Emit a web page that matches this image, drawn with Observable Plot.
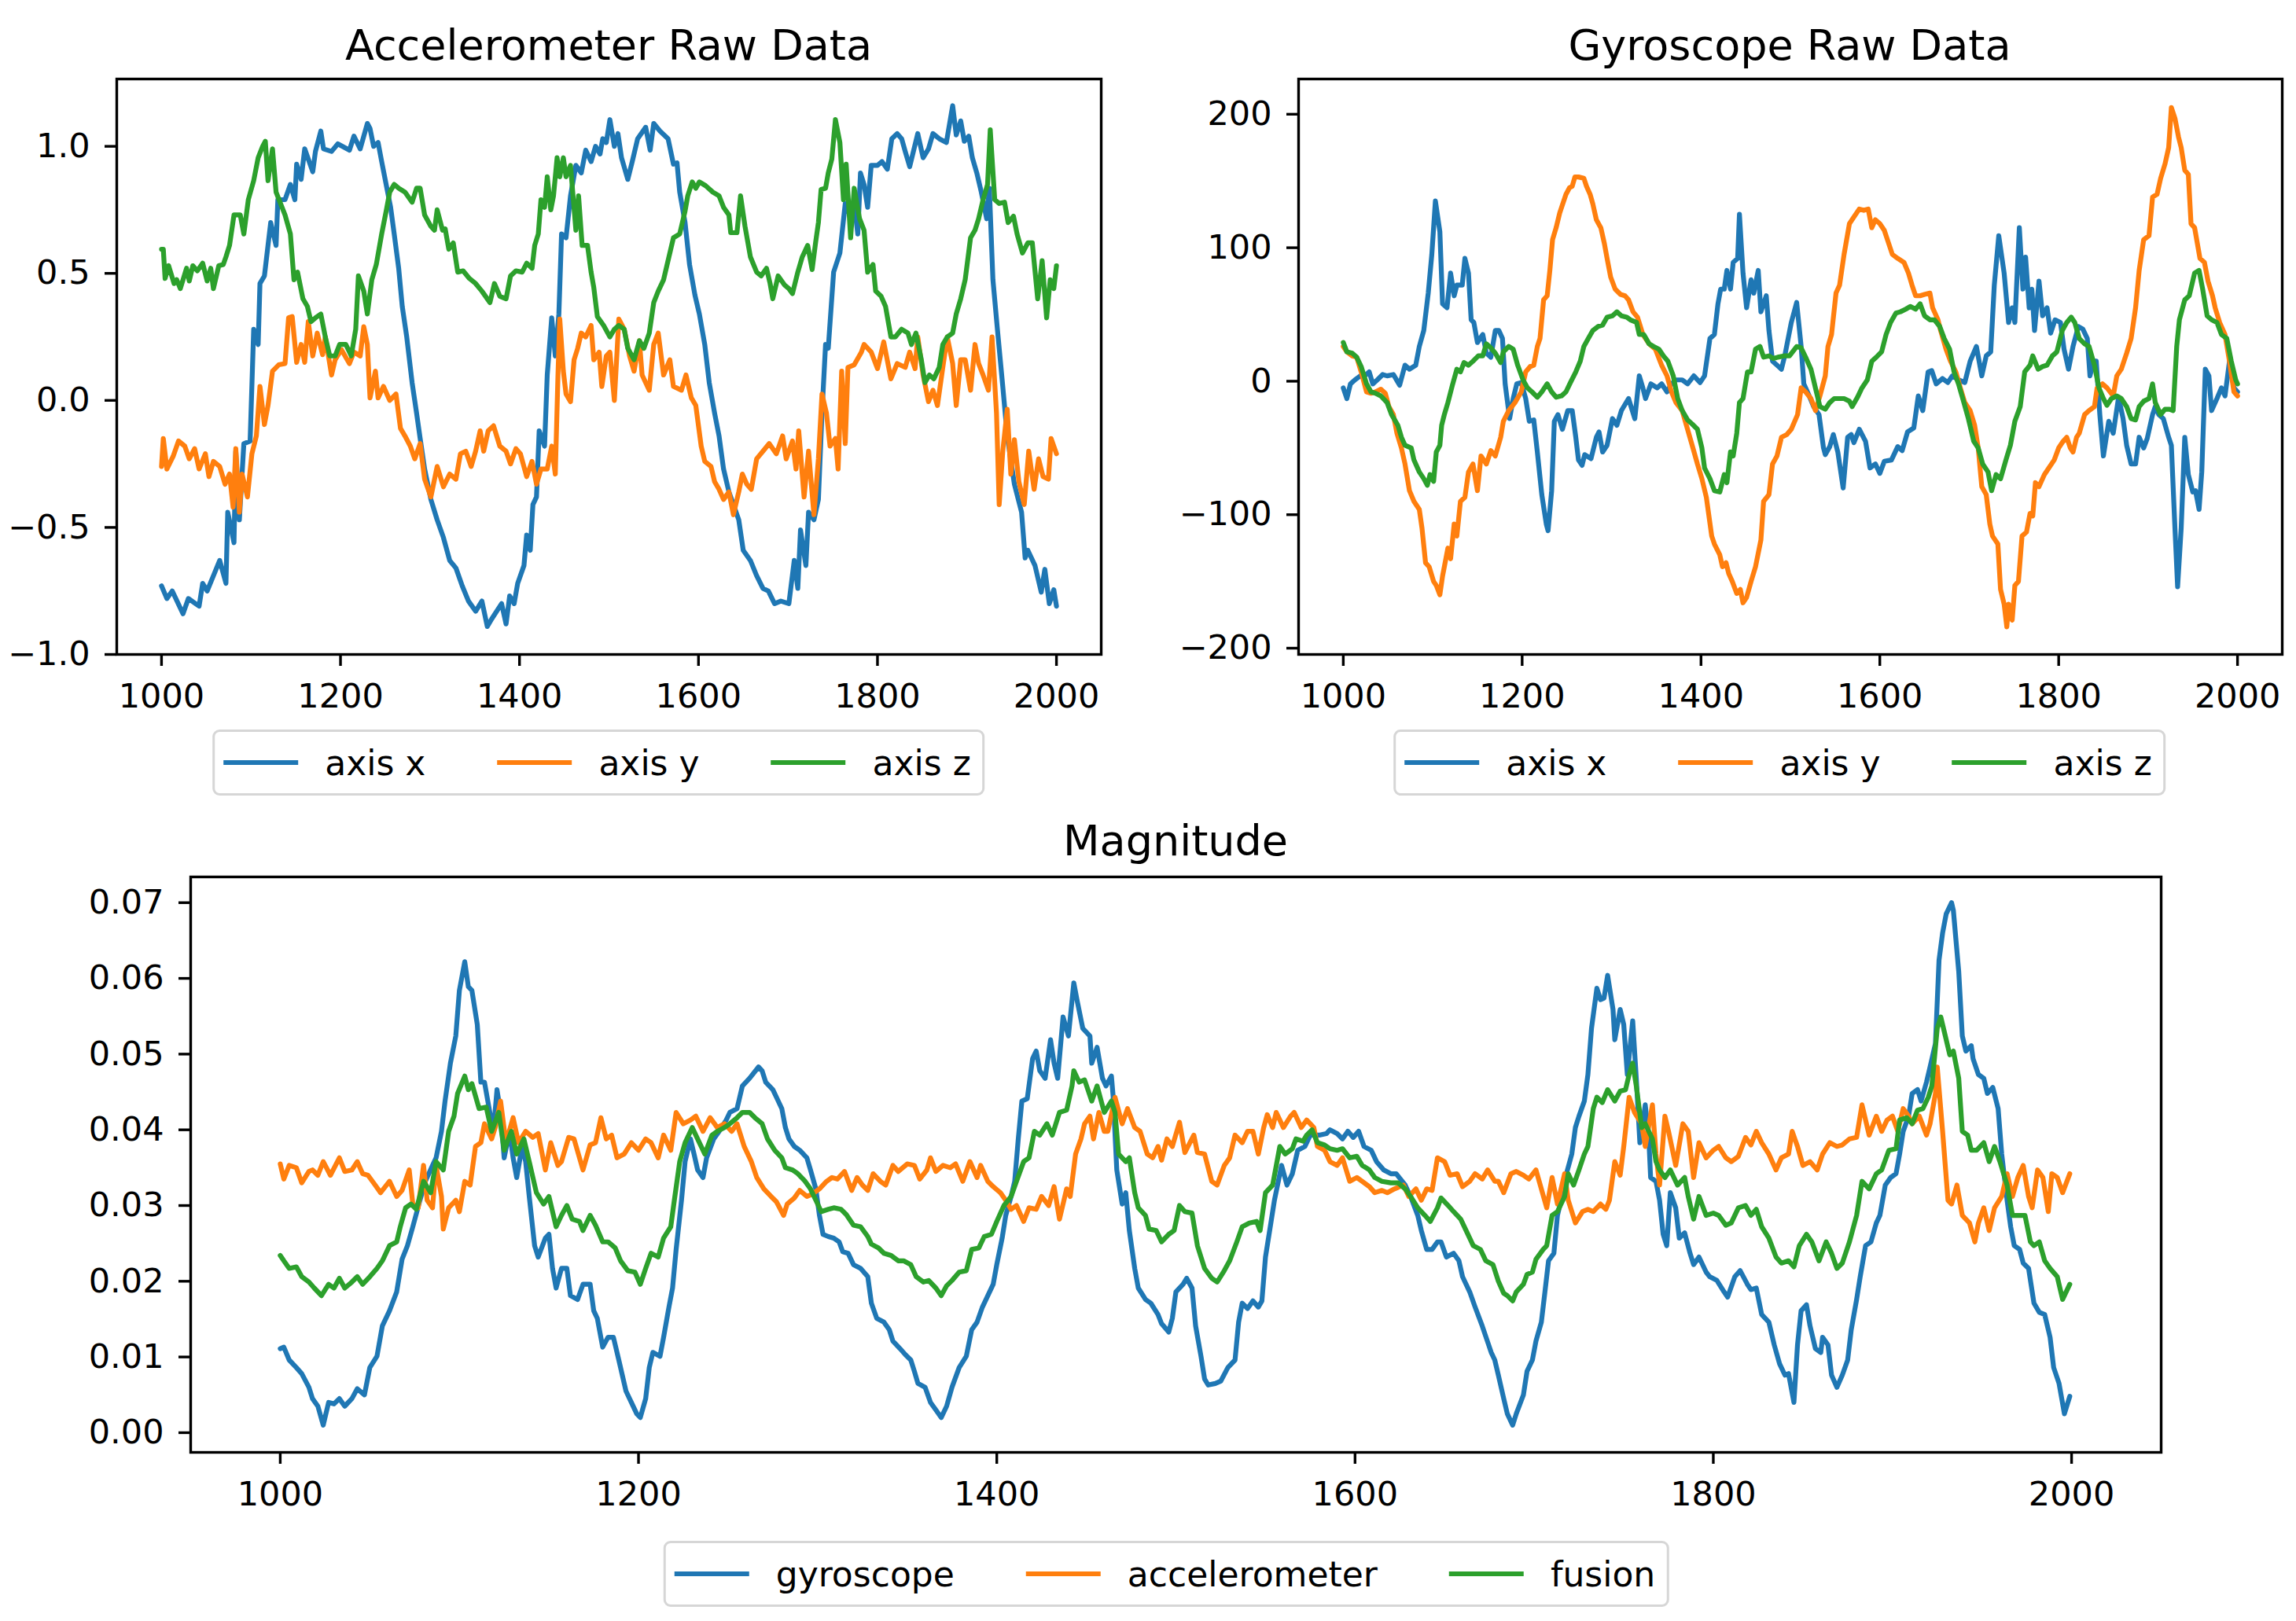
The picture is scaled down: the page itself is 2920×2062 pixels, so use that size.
<!DOCTYPE html>
<html><head><meta charset="utf-8">
<script src="https://cdn.jsdelivr.net/npm/d3@7"></script>
<script src="https://cdn.jsdelivr.net/npm/@observablehq/plot@0.6"></script>
<style>
html,body{margin:0;padding:0;background:#fff;}
#fig{position:relative;width:2920px;height:2062px;background:#fff;font-family:"DejaVu Sans",sans-serif;color:#000;overflow:hidden;}
.panel{position:absolute;}
.panel svg{max-width:none !important;}
.title{position:absolute;font-size:54px;line-height:54px;white-space:nowrap;transform:translateX(-50%);}
.legend{position:absolute;transform:translateX(-50%);height:84px;box-sizing:border-box;border:3.4px solid #d6d6d6;border-radius:9px;background:#fff;display:flex;align-items:center;padding:0 14px 0 11px;font-size:44px;white-space:nowrap;}
.item{display:flex;align-items:center;}
.item+.item{margin-left:91px;}
.handle{width:95px;height:6.4px;margin-right:34px;}
</style></head><body><div id="fig"></div>
<script>
// ---------- data ----------
const xTicks = [1000, 1200, 1400, 1600, 1800, 2000];
const accTicks = [-1, -0.5, 0, 0.5, 1];
const gyroTicks = [-200, -100, 0, 100, 200];
const magTicks = [0, 1, 2, 3, 4, 5, 6, 7].map(v => v / 100);
const colors = ["#1f77b4", "#ff7f0e", "#2ca02c"];
const rawLabels = ["axis x", "axis y", "axis z"];
const magLabels = ["gyroscope", "accelerometer", "fusion"];

const accX = [[1000,-0.73],[1006,-0.78],[1012,-0.75],[1024,-0.84],[1030,-0.78],[1042,-0.81],[1046,-0.72],[1051,-0.75],[1058,-0.69],[1065,-0.63],[1072,-0.72],[1074,-0.44],[1081,-0.56],[1083,-0.2],[1087,-0.47],[1092,-0.17],[1099,-0.16],[1103,0.28],[1108,0.22],[1110,0.46],[1115,0.49],[1119,0.61],[1122,0.70],[1128,0.61],[1130,0.79],[1138,0.79],[1144,0.85],[1149,0.79],[1151,0.93],[1156,0.87],[1160,0.99],[1169,0.90],[1172,0.98],[1178,1.06],[1181,0.99],[1190,0.98],[1197,1.01],[1210,0.985],[1215,1.04],[1222,0.99],[1230,1.09],[1233,1.07],[1237,1.0],[1242,1.015],[1246,0.94],[1251,0.85],[1256,0.76],[1260,0.655],[1265,0.52],[1269,0.37],[1274,0.25],[1280,0.07],[1285,-0.05],[1289,-0.15],[1294,-0.27],[1301,-0.39],[1308,-0.47],[1315,-0.54],[1322,-0.63],[1329,-0.66],[1336,-0.73],[1343,-0.79],[1351,-0.83],[1358,-0.79],[1364,-0.89],[1369,-0.86],[1380,-0.80],[1385,-0.88],[1389,-0.77],[1394,-0.8],[1398,-0.72],[1405,-0.65],[1408,-0.53],[1412,-0.59],[1415,-0.41],[1419,-0.38],[1422,-0.12],[1428,-0.18],[1431,0.10],[1436,0.325],[1440,0.175],[1444,0.34],[1447,0.655],[1452,0.64],[1457,0.805],[1463,0.925],[1469,0.895],[1474,0.985],[1480,0.94],[1485,1.0],[1490,0.97],[1493,1.03],[1497,1.015],[1501,1.105],[1506,1.0],[1510,1.05],[1514,0.955],[1521,0.87],[1526,0.94],[1532,1.03],[1541,1.075],[1546,0.985],[1550,1.09],[1557,1.06],[1566,1.03],[1572,0.93],[1576,0.935],[1579,0.82],[1585,0.70],[1590,0.535],[1596,0.415],[1601,0.34],[1607,0.22],[1612,0.07],[1618,-0.05],[1623,-0.14],[1628,-0.27],[1634,-0.36],[1639,-0.41],[1645,-0.47],[1650,-0.59],[1658,-0.63],[1665,-0.69],[1672,-0.74],[1678,-0.75],[1685,-0.80],[1692,-0.79],[1701,-0.80],[1707,-0.63],[1711,-0.74],[1714,-0.51],[1720,-0.65],[1723,-0.44],[1729,-0.47],[1734,-0.39],[1738,-0.05],[1742,0.22],[1745,0.205],[1751,0.505],[1758,0.58],[1764,0.775],[1769,0.73],[1774,0.775],[1778,0.655],[1781,0.895],[1785,0.85],[1789,0.76],[1793,0.925],[1800,0.925],[1805,0.94],[1811,0.91],[1816,1.03],[1822,1.05],[1827,1.03],[1831,0.98],[1836,0.92],[1845,1.05],[1851,0.955],[1857,0.99],[1862,1.05],[1869,1.03],[1877,1.015],[1884,1.16],[1888,1.045],[1893,1.10],[1897,1.02],[1902,1.04],[1906,0.955],[1911,0.895],[1916,0.82],[1922,0.715],[1925,0.835],[1929,0.475],[1934,0.28],[1940,0.055],[1945,-0.14],[1953,-0.33],[1961,-0.44],[1965,-0.62],[1968,-0.59],[1976,-0.65],[1983,-0.755],[1987,-0.665],[1992,-0.80],[1997,-0.745],[2000,-0.81]];

const accY = [[1000,-0.26],[1002,-0.15],[1006,-0.27],[1013,-0.22],[1019,-0.16],[1026,-0.18],[1031,-0.23],[1037,-0.19],[1042,-0.27],[1049,-0.21],[1053,-0.30],[1058,-0.24],[1065,-0.26],[1071,-0.33],[1076,-0.29],[1080,-0.42],[1083,-0.19],[1087,-0.44],[1090,-0.29],[1096,-0.38],[1101,-0.21],[1106,-0.14],[1110,0.055],[1115,-0.095],[1119,-0.02],[1124,0.115],[1131,0.14],[1138,0.145],[1142,0.325],[1146,0.33],[1151,0.15],[1156,0.22],[1160,0.15],[1164,0.31],[1169,0.175],[1174,0.265],[1180,0.18],[1183,0.25],[1190,0.10],[1194,0.16],[1201,0.20],[1210,0.145],[1215,0.19],[1222,0.175],[1226,0.29],[1230,0.22],[1233,0.01],[1239,0.115],[1242,0.01],[1248,0.055],[1255,0.0],[1262,0.025],[1267,-0.11],[1272,-0.14],[1278,-0.18],[1283,-0.23],[1289,-0.17],[1294,-0.31],[1301,-0.38],[1308,-0.26],[1315,-0.34],[1322,-0.29],[1329,-0.31],[1334,-0.21],[1340,-0.20],[1346,-0.26],[1351,-0.20],[1356,-0.12],[1360,-0.20],[1365,-0.12],[1371,-0.10],[1378,-0.18],[1385,-0.20],[1390,-0.25],[1396,-0.19],[1401,-0.21],[1408,-0.30],[1414,-0.24],[1419,-0.33],[1424,-0.27],[1431,-0.27],[1436,-0.18],[1440,-0.29],[1443,0.10],[1445,0.32],[1449,0.115],[1452,0.025],[1457,-0.005],[1461,0.16],[1465,0.205],[1469,0.265],[1474,0.25],[1480,0.295],[1483,0.16],[1489,0.19],[1492,0.055],[1497,0.175],[1501,0.19],[1506,0.0],[1511,0.32],[1517,0.28],[1523,0.175],[1528,0.115],[1534,0.235],[1537,0.10],[1545,0.04],[1550,0.22],[1555,0.265],[1561,0.10],[1568,0.16],[1572,0.055],[1581,0.04],[1586,0.10],[1592,0.01],[1597,-0.02],[1603,-0.18],[1607,-0.24],[1614,-0.26],[1618,-0.32],[1623,-0.35],[1628,-0.39],[1634,-0.36],[1639,-0.45],[1645,-0.36],[1649,-0.29],[1654,-0.33],[1659,-0.35],[1665,-0.23],[1672,-0.20],[1679,-0.17],[1687,-0.21],[1694,-0.14],[1698,-0.23],[1705,-0.16],[1709,-0.27],[1712,-0.12],[1718,-0.38],[1723,-0.20],[1729,-0.45],[1734,-0.23],[1738,0.025],[1743,-0.05],[1747,-0.18],[1753,-0.15],[1756,-0.27],[1760,0.115],[1764,-0.17],[1767,0.13],[1774,0.14],[1782,0.19],[1785,0.22],[1793,0.19],[1800,0.125],[1807,0.23],[1815,0.085],[1822,0.145],[1831,0.13],[1836,0.19],[1842,0.125],[1845,0.25],[1851,0.10],[1857,-0.005],[1862,0.04],[1867,-0.02],[1873,0.13],[1878,0.25],[1884,0.145],[1888,-0.02],[1893,0.16],[1898,0.16],[1904,0.04],[1909,0.22],[1913,0.145],[1918,0.10],[1924,0.04],[1928,0.25],[1933,-0.05],[1936,-0.41],[1940,-0.20],[1945,-0.035],[1949,-0.29],[1953,-0.155],[1958,-0.32],[1964,-0.41],[1969,-0.20],[1975,-0.35],[1980,-0.23],[1985,-0.30],[1991,-0.31],[1994,-0.15],[2000,-0.21]];

const accZ = [[1000,0.595],[1002,0.595],[1004,0.48],[1008,0.53],[1014,0.46],[1017,0.475],[1021,0.44],[1028,0.52],[1031,0.47],[1035,0.53],[1040,0.51],[1046,0.54],[1051,0.47],[1055,0.52],[1058,0.44],[1064,0.53],[1069,0.535],[1072,0.565],[1076,0.61],[1081,0.73],[1088,0.73],[1092,0.655],[1097,0.79],[1103,0.865],[1108,0.955],[1113,1.0],[1116,1.02],[1119,0.865],[1124,0.99],[1128,0.82],[1133,0.775],[1138,0.73],[1144,0.655],[1148,0.475],[1152,0.505],[1158,0.40],[1163,0.37],[1167,0.31],[1172,0.325],[1178,0.34],[1183,0.25],[1188,0.175],[1194,0.175],[1199,0.22],[1206,0.22],[1212,0.175],[1217,0.28],[1220,0.49],[1226,0.43],[1230,0.34],[1235,0.475],[1240,0.535],[1246,0.655],[1251,0.745],[1255,0.82],[1260,0.85],[1265,0.835],[1272,0.82],[1280,0.78],[1285,0.835],[1289,0.835],[1294,0.73],[1301,0.685],[1305,0.67],[1308,0.75],[1314,0.67],[1317,0.675],[1321,0.595],[1326,0.62],[1331,0.505],[1337,0.51],[1344,0.48],[1351,0.46],[1358,0.43],[1367,0.385],[1372,0.46],[1378,0.41],[1385,0.40],[1390,0.49],[1396,0.51],[1403,0.505],[1408,0.54],[1414,0.52],[1417,0.61],[1421,0.655],[1424,0.79],[1428,0.76],[1431,0.88],[1435,0.75],[1438,0.805],[1442,0.955],[1445,0.88],[1449,0.955],[1452,0.88],[1457,0.925],[1463,0.67],[1466,0.805],[1470,0.61],[1476,0.61],[1480,0.505],[1483,0.445],[1487,0.33],[1494,0.295],[1501,0.25],[1506,0.28],[1511,0.295],[1517,0.28],[1521,0.205],[1528,0.16],[1534,0.235],[1539,0.205],[1545,0.265],[1550,0.385],[1555,0.43],[1561,0.475],[1566,0.55],[1572,0.64],[1579,0.655],[1585,0.745],[1588,0.805],[1593,0.86],[1597,0.835],[1601,0.86],[1608,0.845],[1616,0.82],[1623,0.805],[1628,0.76],[1634,0.73],[1636,0.66],[1643,0.66],[1647,0.805],[1652,0.685],[1658,0.565],[1665,0.505],[1670,0.49],[1676,0.52],[1680,0.46],[1683,0.40],[1689,0.49],[1696,0.455],[1701,0.44],[1705,0.42],[1711,0.505],[1716,0.565],[1722,0.61],[1727,0.515],[1731,0.625],[1734,0.70],[1737,0.83],[1742,0.835],[1745,0.895],[1749,0.95],[1753,1.105],[1758,1.015],[1762,0.79],[1765,0.93],[1770,0.64],[1774,0.835],[1780,0.715],[1785,0.67],[1789,0.505],[1795,0.535],[1798,0.43],[1804,0.41],[1809,0.37],[1815,0.25],[1820,0.25],[1827,0.28],[1834,0.265],[1838,0.22],[1843,0.265],[1849,0.16],[1853,0.07],[1858,0.10],[1863,0.085],[1869,0.13],[1873,0.22],[1878,0.25],[1884,0.265],[1888,0.34],[1893,0.40],[1898,0.475],[1904,0.64],[1909,0.67],[1913,0.715],[1918,0.79],[1923,0.85],[1926,1.065],[1931,0.79],[1936,0.775],[1942,0.78],[1946,0.70],[1952,0.725],[1956,0.655],[1962,0.58],[1968,0.62],[1973,0.62],[1979,0.40],[1984,0.55],[1989,0.325],[1993,0.475],[1997,0.44],[2000,0.53]];

const gyroX = [[1000,-5],[1004,-13],[1008,-2],[1013,1],[1019,4],[1024,4],[1029,7],[1033,-2],[1038,1],[1044,5],[1049,4],[1056,5],[1063,-3],[1069,12],[1074,9],[1081,12],[1085,26],[1090,38],[1095,66],[1099,95],[1103,135],[1108,112],[1111,58],[1116,55],[1120,81],[1124,64],[1127,72],[1133,72],[1136,92],[1140,81],[1143,46],[1146,44],[1150,29],[1156,35],[1160,21],[1165,18],[1170,38],[1174,38],[1178,32],[1181,-2],[1186,-28],[1190,-13],[1194,-2],[1199,-1],[1204,-13],[1208,-30],[1213,-29],[1217,-53],[1222,-85],[1227,-107],[1229,-112],[1233,-82],[1236,-30],[1240,-25],[1245,-36],[1251,-22],[1256,-22],[1260,-42],[1263,-59],[1267,-63],[1270,-55],[1277,-58],[1283,-42],[1286,-38],[1290,-53],[1295,-48],[1301,-28],[1306,-33],[1311,-22],[1319,-13],[1326,-28],[1331,4],[1335,-5],[1338,-13],[1344,-2],[1351,-5],[1356,-2],[1362,-8],[1367,-2],[1372,1],[1379,1],[1385,-2],[1392,4],[1399,-1],[1404,4],[1410,32],[1415,35],[1419,58],[1422,69],[1426,69],[1429,83],[1433,69],[1436,89],[1441,92],[1443,125],[1447,81],[1451,55],[1456,76],[1459,66],[1464,83],[1467,52],[1473,64],[1476,38],[1480,15],[1485,12],[1490,9],[1494,20],[1501,44],[1507,59],[1512,26],[1515,-2],[1521,-11],[1526,-19],[1532,-25],[1537,-50],[1539,-55],[1544,-49],[1548,-40],[1553,-53],[1559,-80],[1564,-42],[1568,-40],[1571,-46],[1577,-36],[1584,-45],[1589,-65],[1595,-62],[1600,-69],[1605,-60],[1613,-59],[1620,-49],[1625,-52],[1631,-38],[1638,-35],[1643,-11],[1648,-22],[1654,7],[1658,8],[1663,-2],[1670,2],[1676,-1],[1681,4],[1688,1],[1695,-1],[1701,15],[1708,26],[1714,4],[1719,19],[1724,22],[1728,72],[1733,109],[1739,81],[1744,44],[1748,55],[1751,44],[1756,115],[1760,69],[1763,93],[1767,55],[1770,69],[1773,38],[1778,75],[1782,49],[1787,55],[1791,36],[1796,46],[1802,44],[1806,24],[1811,9],[1816,26],[1822,41],[1827,39],[1832,32],[1835,4],[1839,15],[1842,15],[1846,-25],[1850,-56],[1856,-30],[1861,-39],[1867,-12],[1872,-28],[1876,-48],[1881,-62],[1886,-62],[1890,-42],[1895,-50],[1899,-43],[1905,-25],[1908,-19],[1912,-25],[1917,-28],[1923,-42],[1926,-48],[1930,-110],[1933,-154],[1937,-110],[1941,-42],[1945,-70],[1950,-83],[1953,-82],[1957,-96],[1960,-68],[1964,9],[1968,4],[1971,-22],[1977,-13],[1982,-5],[1986,-11],[1991,15],[1996,-5],[2000,-8]];

const gyroY = [[1000,26],[1004,22],[1010,19],[1015,18],[1020,7],[1026,-8],[1031,-9],[1036,-8],[1042,-6],[1047,-9],[1051,-19],[1056,-25],[1060,-39],[1065,-50],[1069,-62],[1074,-82],[1079,-90],[1085,-96],[1088,-110],[1092,-136],[1096,-139],[1101,-150],[1104,-153],[1108,-160],[1111,-146],[1117,-125],[1120,-133],[1124,-107],[1127,-116],[1131,-90],[1136,-87],[1140,-68],[1145,-62],[1150,-82],[1154,-56],[1160,-62],[1165,-52],[1170,-56],[1176,-42],[1179,-30],[1185,-22],[1192,-16],[1199,-8],[1204,7],[1209,11],[1213,12],[1217,26],[1220,32],[1224,61],[1228,64],[1231,83],[1234,106],[1238,115],[1242,126],[1245,132],[1249,140],[1253,145],[1256,146],[1259,153],[1263,153],[1269,152],[1272,146],[1276,140],[1279,133],[1283,121],[1288,115],[1292,103],[1295,92],[1299,78],[1304,69],[1310,65],[1315,64],[1319,61],[1324,52],[1329,48],[1335,35],[1342,28],[1349,24],[1356,12],[1362,4],[1367,-8],[1372,-16],[1379,-22],[1385,-36],[1391,-50],[1396,-62],[1401,-73],[1406,-87],[1412,-116],[1415,-122],[1421,-130],[1424,-139],[1428,-136],[1431,-144],[1435,-150],[1440,-159],[1444,-156],[1447,-166],[1451,-162],[1456,-150],[1461,-139],[1467,-119],[1470,-90],[1476,-85],[1480,-62],[1485,-56],[1490,-42],[1496,-40],[1501,-36],[1508,-25],[1512,-5],[1517,-8],[1523,-13],[1528,-22],[1533,-11],[1539,4],[1542,26],[1546,35],[1551,66],[1555,72],[1560,95],[1566,118],[1571,123],[1577,129],[1582,128],[1587,129],[1591,115],[1595,121],[1600,118],[1605,113],[1609,105],[1614,95],[1620,92],[1627,89],[1632,81],[1636,72],[1640,64],[1645,64],[1650,65],[1656,66],[1659,55],[1665,46],[1668,38],[1674,24],[1679,15],[1685,7],[1690,-5],[1695,-16],[1701,-22],[1706,-33],[1710,-50],[1714,-79],[1719,-85],[1723,-107],[1726,-116],[1732,-122],[1735,-156],[1739,-167],[1742,-184],[1744,-167],[1748,-179],[1751,-153],[1755,-150],[1759,-116],[1764,-113],[1768,-99],[1771,-101],[1774,-76],[1778,-79],[1784,-70],[1789,-65],[1795,-59],[1800,-50],[1805,-45],[1809,-42],[1813,-50],[1816,-53],[1820,-42],[1823,-39],[1829,-25],[1834,-22],[1840,-19],[1843,-5],[1849,-2],[1854,-5],[1861,-11],[1865,4],[1870,9],[1876,21],[1881,32],[1886,55],[1890,83],[1895,106],[1901,109],[1905,138],[1910,140],[1914,152],[1919,163],[1923,175],[1926,205],[1930,197],[1934,183],[1937,175],[1941,158],[1945,155],[1948,118],[1952,115],[1958,92],[1963,89],[1967,75],[1972,64],[1975,55],[1980,44],[1986,35],[1991,15],[1996,-8],[2000,-11]];

const gyroZ = [[1000,29],[1004,22],[1010,21],[1015,18],[1020,11],[1026,-2],[1031,-8],[1036,-9],[1042,-11],[1049,-16],[1054,-25],[1061,-33],[1065,-42],[1069,-48],[1076,-50],[1079,-59],[1085,-68],[1090,-73],[1094,-78],[1097,-70],[1101,-75],[1104,-53],[1108,-48],[1110,-33],[1113,-25],[1117,-16],[1122,-3],[1127,9],[1131,7],[1135,14],[1140,12],[1145,15],[1151,19],[1156,19],[1160,28],[1165,25],[1170,21],[1176,14],[1179,22],[1185,26],[1190,24],[1195,12],[1201,1],[1206,-5],[1211,-8],[1217,-12],[1222,-8],[1228,-2],[1233,-8],[1238,-12],[1244,-11],[1249,-8],[1254,-1],[1260,7],[1265,15],[1269,26],[1274,32],[1279,38],[1285,41],[1290,42],[1295,48],[1301,49],[1306,52],[1311,49],[1317,48],[1321,46],[1328,44],[1331,35],[1336,35],[1342,28],[1347,26],[1353,24],[1358,19],[1363,15],[1369,4],[1374,-13],[1379,-22],[1385,-29],[1390,-32],[1396,-36],[1401,-50],[1404,-65],[1410,-73],[1415,-82],[1421,-83],[1426,-70],[1429,-76],[1433,-53],[1436,-56],[1440,-39],[1443,-16],[1447,-13],[1452,7],[1456,7],[1461,24],[1466,26],[1470,18],[1476,19],[1481,17],[1486,18],[1493,19],[1499,19],[1507,26],[1512,25],[1517,18],[1523,9],[1528,-5],[1533,-19],[1539,-21],[1544,-16],[1549,-13],[1555,-13],[1560,-13],[1566,-15],[1569,-19],[1575,-12],[1580,-5],[1586,1],[1591,15],[1596,18],[1602,22],[1607,35],[1612,44],[1618,51],[1623,52],[1629,54],[1634,56],[1640,54],[1645,58],[1650,49],[1656,46],[1661,46],[1667,41],[1672,32],[1678,24],[1683,7],[1688,-2],[1694,-16],[1699,-28],[1705,-45],[1710,-50],[1715,-62],[1721,-68],[1725,-82],[1730,-70],[1735,-73],[1741,-59],[1746,-48],[1751,-30],[1757,-19],[1762,7],[1768,12],[1771,19],[1777,9],[1782,11],[1787,12],[1793,19],[1798,22],[1804,38],[1809,44],[1814,48],[1818,44],[1823,32],[1829,28],[1834,26],[1840,12],[1845,-5],[1850,-13],[1854,-18],[1859,-13],[1865,-11],[1870,-13],[1876,-19],[1881,-28],[1886,-29],[1890,-19],[1895,-15],[1901,-13],[1905,-2],[1908,-16],[1914,-25],[1919,-21],[1924,-21],[1928,-22],[1932,26],[1935,46],[1941,61],[1946,64],[1952,81],[1957,83],[1961,69],[1966,49],[1971,46],[1977,44],[1982,35],[1988,32],[1993,15],[1998,1],[2000,-2]];

const magGyro = [[1000,0.0111],[1002,0.0113],[1005,0.0096],[1009,0.0086],[1012,0.0078],[1016,0.0060],[1018,0.0045],[1021,0.0035],[1024,0.0010],[1027,0.0040],[1030,0.0038],[1033,0.0045],[1036,0.0035],[1040,0.0045],[1043,0.0058],[1047,0.0050],[1050,0.0086],[1054,0.0101],[1057,0.0141],[1061,0.0161],[1065,0.0186],[1068,0.0229],[1071,0.0247],[1074,0.0272],[1078,0.0307],[1081,0.0332],[1085,0.0353],[1087,0.0363],[1090,0.0398],[1092,0.0438],[1095,0.0488],[1098,0.0524],[1100,0.0584],[1103,0.0622],[1105,0.0589],[1107,0.0584],[1110,0.0539],[1112,0.0463],[1114,0.0463],[1117,0.0423],[1119,0.0398],[1121,0.0453],[1123,0.0423],[1125,0.0363],[1128,0.0398],[1130,0.0363],[1132,0.0337],[1135,0.0378],[1137,0.0358],[1139,0.0312],[1142,0.0247],[1144,0.0232],[1148,0.0257],[1150,0.0262],[1152,0.0217],[1154,0.0191],[1157,0.0217],[1160,0.0217],[1162,0.0181],[1166,0.0176],[1169,0.0196],[1173,0.0196],[1175,0.0161],[1177,0.0151],[1180,0.0113],[1183,0.0126],[1186,0.0126],[1189,0.0096],[1193,0.0055],[1196,0.0040],[1199,0.0025],[1201,0.0020],[1204,0.0045],[1206,0.0086],[1208,0.0106],[1212,0.0101],[1214,0.0126],[1217,0.0166],[1219,0.0191],[1221,0.0242],[1224,0.0307],[1226,0.0358],[1229,0.0388],[1231,0.0368],[1233,0.0347],[1236,0.0337],[1238,0.0363],[1242,0.0388],[1245,0.0398],[1249,0.0413],[1251,0.0423],[1255,0.0428],[1258,0.0458],[1262,0.0468],[1267,0.0483],[1269,0.0478],[1271,0.0463],[1275,0.0453],[1277,0.0443],[1280,0.0428],[1282,0.0403],[1284,0.0388],[1287,0.0378],[1290,0.0373],[1294,0.0363],[1296,0.0347],[1299,0.0322],[1301,0.0287],[1303,0.0262],[1306,0.0259],[1309,0.0257],[1312,0.0252],[1314,0.0239],[1317,0.0237],[1320,0.0222],[1324,0.0217],[1328,0.0206],[1330,0.0171],[1333,0.0151],[1337,0.0146],[1340,0.0136],[1342,0.0121],[1346,0.0111],[1349,0.0103],[1352,0.0096],[1354,0.0081],[1356,0.0065],[1360,0.0060],[1363,0.0040],[1366,0.0030],[1369,0.0020],[1372,0.0035],[1375,0.0060],[1379,0.0086],[1383,0.0101],[1386,0.0136],[1389,0.0146],[1392,0.0166],[1395,0.0181],[1398,0.0196],[1400,0.0222],[1403,0.0257],[1405,0.0287],[1408,0.0312],[1410,0.0332],[1412,0.0388],[1414,0.0438],[1417,0.0441],[1420,0.0494],[1422,0.0504],[1424,0.0478],[1427,0.0468],[1430,0.0519],[1432,0.0488],[1434,0.0468],[1437,0.0549],[1440,0.0524],[1443,0.0594],[1445,0.0569],[1448,0.0534],[1452,0.0524],[1453,0.0488],[1456,0.0509],[1459,0.0468],[1461,0.0458],[1464,0.0471],[1465,0.0443],[1467,0.0347],[1470,0.0302],[1472,0.0317],[1474,0.0267],[1477,0.0217],[1479,0.0191],[1483,0.0176],[1486,0.0171],[1490,0.0156],[1492,0.0144],[1496,0.0133],[1498,0.0151],[1500,0.0186],[1504,0.0196],[1506,0.0204],[1509,0.0191],[1511,0.0141],[1514,0.0101],[1516,0.0071],[1518,0.0063],[1522,0.0065],[1525,0.0068],[1529,0.0086],[1533,0.0096],[1535,0.0146],[1537,0.0171],[1540,0.0164],[1543,0.0174],[1546,0.0166],[1548,0.0174],[1550,0.0232],[1553,0.0277],[1555,0.0307],[1559,0.0353],[1562,0.0327],[1565,0.0342],[1568,0.0373],[1572,0.0378],[1575,0.0393],[1580,0.0393],[1584,0.0395],[1586,0.0400],[1590,0.0395],[1593,0.0388],[1596,0.0398],[1599,0.0390],[1602,0.0398],[1605,0.0378],[1609,0.0373],[1612,0.0358],[1616,0.0347],[1620,0.0342],[1623,0.0342],[1628,0.0327],[1631,0.0312],[1635,0.0287],[1637,0.0267],[1640,0.0242],[1643,0.0242],[1646,0.0252],[1648,0.0252],[1651,0.0232],[1655,0.0237],[1658,0.0227],[1660,0.0206],[1664,0.0186],[1667,0.0166],[1671,0.0141],[1674,0.0120],[1676,0.0106],[1678,0.0096],[1680,0.0076],[1683,0.0045],[1685,0.0025],[1688,0.0010],[1690,0.0025],[1694,0.0050],[1696,0.0081],[1699,0.0096],[1701,0.0121],[1704,0.0146],[1706,0.0186],[1708,0.0227],[1711,0.0237],[1713,0.0287],[1716,0.0317],[1718,0.0342],[1721,0.0368],[1723,0.0403],[1725,0.0418],[1728,0.0438],[1730,0.0473],[1732,0.0534],[1735,0.0587],[1737,0.0572],[1739,0.0574],[1741,0.0604],[1744,0.0559],[1745,0.0519],[1748,0.0559],[1750,0.0539],[1752,0.0473],[1755,0.0544],[1757,0.0468],[1759,0.0383],[1762,0.0433],[1764,0.0388],[1765,0.0337],[1768,0.0332],[1770,0.0307],[1772,0.0262],[1774,0.0247],[1776,0.0317],[1779,0.0297],[1781,0.0257],[1784,0.0264],[1787,0.0237],[1789,0.0222],[1792,0.0232],[1796,0.0212],[1798,0.0206],[1802,0.0201],[1806,0.0186],[1808,0.0179],[1812,0.0206],[1815,0.0214],[1819,0.0196],[1821,0.0189],[1824,0.0191],[1827,0.0156],[1831,0.0146],[1834,0.0116],[1837,0.0091],[1840,0.0076],[1842,0.0078],[1845,0.0040],[1847,0.0116],[1849,0.0161],[1852,0.0169],[1854,0.0141],[1857,0.0111],[1860,0.0106],[1861,0.0126],[1864,0.0116],[1866,0.0076],[1869,0.0060],[1872,0.0076],[1875,0.0096],[1877,0.0136],[1880,0.0176],[1882,0.0206],[1885,0.0247],[1888,0.0252],[1891,0.0277],[1893,0.0287],[1896,0.0327],[1899,0.0337],[1902,0.0342],[1904,0.0368],[1906,0.0398],[1909,0.0418],[1911,0.0448],[1914,0.0453],[1916,0.0438],[1919,0.0463],[1921,0.0483],[1924,0.0514],[1926,0.0624],[1928,0.0660],[1930,0.0685],[1933,0.0700],[1934,0.0690],[1937,0.0609],[1939,0.0524],[1941,0.0504],[1944,0.0511],[1945,0.0494],[1948,0.0473],[1951,0.0468],[1953,0.0448],[1956,0.0456],[1959,0.0428],[1961,0.0368],[1964,0.0307],[1966,0.0272],[1968,0.0247],[1971,0.0242],[1973,0.0224],[1976,0.0217],[1979,0.0171],[1982,0.0159],[1985,0.0156],[1988,0.0126],[1990,0.0086],[1993,0.0065],[1996,0.0025],[1999,0.0048]];

const magAcc = [[1000,0.0355],[1002,0.0335],[1005,0.0353],[1009,0.0350],[1012,0.0330],[1016,0.0345],[1018,0.0347],[1021,0.0340],[1024,0.0358],[1028,0.0340],[1033,0.0363],[1036,0.0345],[1040,0.0347],[1043,0.0358],[1046,0.0342],[1049,0.0340],[1053,0.0327],[1056,0.0317],[1061,0.0332],[1065,0.0312],[1068,0.0320],[1072,0.0347],[1074,0.0302],[1077,0.0297],[1080,0.0353],[1082,0.0307],[1085,0.0297],[1087,0.0353],[1090,0.0312],[1091,0.0269],[1094,0.0297],[1098,0.0307],[1100,0.0292],[1103,0.0332],[1106,0.0327],[1109,0.0378],[1112,0.0383],[1114,0.0408],[1118,0.0388],[1120,0.0403],[1123,0.0438],[1126,0.0383],[1130,0.0416],[1133,0.0383],[1137,0.0398],[1141,0.0390],[1144,0.0395],[1148,0.0347],[1151,0.0383],[1155,0.0353],[1157,0.0358],[1161,0.0390],[1164,0.0388],[1169,0.0347],[1173,0.0380],[1176,0.0383],[1179,0.0416],[1182,0.0388],[1185,0.0393],[1188,0.0363],[1192,0.0368],[1196,0.0383],[1200,0.0373],[1204,0.0388],[1207,0.0383],[1211,0.0363],[1214,0.0393],[1218,0.0373],[1221,0.0423],[1225,0.0408],[1229,0.0413],[1232,0.0418],[1236,0.0398],[1240,0.0416],[1244,0.0403],[1248,0.0408],[1252,0.0398],[1255,0.0408],[1259,0.0378],[1263,0.0358],[1266,0.0337],[1270,0.0322],[1274,0.0312],[1277,0.0305],[1281,0.0287],[1283,0.0302],[1287,0.0310],[1290,0.0320],[1294,0.0312],[1297,0.0315],[1301,0.0322],[1305,0.0332],[1308,0.0337],[1311,0.0335],[1315,0.0345],[1319,0.0320],[1322,0.0337],[1325,0.0327],[1328,0.0320],[1331,0.0342],[1335,0.0332],[1338,0.0327],[1342,0.0353],[1345,0.0345],[1350,0.0355],[1354,0.0353],[1357,0.0335],[1361,0.0347],[1363,0.0363],[1366,0.0345],[1370,0.0353],[1374,0.0350],[1377,0.0355],[1381,0.0332],[1385,0.0358],[1389,0.0337],[1391,0.0353],[1395,0.0332],[1398,0.0325],[1402,0.0317],[1405,0.0307],[1408,0.0295],[1411,0.0300],[1415,0.0279],[1418,0.0297],[1422,0.0295],[1425,0.0312],[1429,0.0300],[1432,0.0325],[1435,0.0282],[1439,0.0322],[1441,0.0312],[1444,0.0368],[1447,0.0388],[1449,0.0408],[1452,0.0418],[1454,0.0388],[1457,0.0423],[1460,0.0398],[1462,0.0398],[1466,0.0443],[1470,0.0408],[1473,0.0428],[1477,0.0403],[1480,0.0398],[1484,0.0368],[1487,0.0363],[1490,0.0378],[1492,0.0360],[1495,0.0388],[1498,0.0378],[1502,0.0410],[1505,0.0370],[1510,0.0393],[1512,0.0370],[1516,0.0368],[1520,0.0332],[1523,0.0327],[1527,0.0353],[1530,0.0363],[1533,0.0393],[1537,0.0383],[1540,0.0398],[1543,0.0398],[1546,0.0368],[1549,0.0403],[1551,0.0420],[1554,0.0403],[1556,0.0423],[1560,0.0403],[1564,0.0418],[1566,0.0423],[1570,0.0403],[1573,0.0413],[1577,0.0403],[1579,0.0378],[1583,0.0373],[1586,0.0358],[1590,0.0353],[1593,0.0363],[1597,0.0332],[1601,0.0337],[1604,0.0332],[1608,0.0325],[1611,0.0317],[1615,0.0320],[1618,0.0317],[1622,0.0322],[1627,0.0327],[1630,0.0312],[1634,0.0322],[1637,0.0307],[1640,0.0322],[1643,0.0320],[1646,0.0363],[1650,0.0358],[1653,0.0340],[1657,0.0342],[1660,0.0325],[1664,0.0332],[1667,0.0342],[1671,0.0335],[1674,0.0347],[1678,0.0332],[1680,0.0332],[1683,0.0317],[1687,0.0342],[1690,0.0345],[1694,0.0340],[1697,0.0335],[1701,0.0347],[1704,0.0322],[1707,0.0297],[1710,0.0337],[1713,0.0302],[1717,0.0342],[1719,0.0307],[1723,0.0277],[1727,0.0292],[1730,0.0295],[1733,0.0292],[1737,0.0302],[1740,0.0295],[1742,0.0307],[1745,0.0358],[1748,0.0340],[1750,0.0378],[1753,0.0443],[1756,0.0423],[1760,0.0408],[1762,0.0378],[1766,0.0433],[1768,0.0368],[1770,0.0327],[1773,0.0418],[1775,0.0398],[1779,0.0353],[1783,0.0408],[1786,0.0398],[1789,0.0337],[1792,0.0383],[1796,0.0363],[1800,0.0373],[1803,0.0378],[1807,0.0363],[1810,0.0358],[1814,0.0365],[1818,0.0390],[1821,0.0380],[1824,0.0398],[1827,0.0383],[1831,0.0368],[1835,0.0347],[1838,0.0363],[1842,0.0368],[1844,0.0398],[1847,0.0378],[1850,0.0353],[1854,0.0358],[1858,0.0347],[1861,0.0368],[1865,0.0383],[1869,0.0378],[1872,0.0380],[1876,0.0388],[1880,0.0390],[1883,0.0433],[1887,0.0393],[1891,0.0418],[1894,0.0398],[1897,0.0413],[1900,0.0418],[1903,0.0398],[1906,0.0428],[1909,0.0418],[1911,0.0408],[1915,0.0418],[1919,0.0393],[1921,0.0408],[1924,0.0448],[1925,0.0483],[1928,0.0398],[1931,0.0307],[1933,0.0302],[1936,0.0327],[1939,0.0287],[1943,0.0277],[1946,0.0252],[1948,0.0277],[1951,0.0297],[1954,0.0267],[1957,0.0297],[1961,0.0312],[1964,0.0342],[1967,0.0312],[1970,0.0337],[1973,0.0353],[1976,0.0312],[1978,0.0297],[1981,0.0347],[1984,0.0337],[1987,0.0292],[1989,0.0342],[1992,0.0337],[1995,0.0317],[1999,0.0342]];

const magFusion = [[1000,0.0234],[1002,0.0227],[1005,0.0217],[1009,0.0219],[1012,0.0206],[1016,0.0199],[1019,0.0191],[1023,0.0181],[1027,0.0196],[1030,0.0191],[1033,0.0204],[1036,0.0191],[1040,0.0199],[1043,0.0206],[1046,0.0196],[1050,0.0206],[1054,0.0217],[1057,0.0227],[1061,0.0247],[1065,0.0252],[1067,0.0272],[1070,0.0297],[1073,0.0302],[1076,0.0295],[1080,0.0332],[1084,0.0317],[1087,0.0358],[1091,0.0347],[1094,0.0398],[1097,0.0418],[1099,0.0448],[1103,0.0471],[1105,0.0453],[1107,0.0461],[1111,0.0428],[1115,0.0430],[1118,0.0398],[1122,0.0423],[1125,0.0373],[1129,0.0398],[1132,0.0368],[1136,0.0388],[1139,0.0358],[1143,0.0317],[1147,0.0302],[1150,0.0312],[1154,0.0272],[1157,0.0287],[1160,0.0300],[1163,0.0282],[1167,0.0279],[1169,0.0267],[1173,0.0287],[1176,0.0274],[1180,0.0252],[1183,0.0252],[1187,0.0244],[1190,0.0227],[1194,0.0214],[1198,0.0212],[1201,0.0196],[1204,0.0217],[1207,0.0237],[1211,0.0232],[1214,0.0257],[1218,0.0272],[1220,0.0307],[1223,0.0358],[1226,0.0383],[1230,0.0403],[1234,0.0383],[1237,0.0368],[1241,0.0393],[1244,0.0398],[1248,0.0403],[1251,0.0408],[1255,0.0416],[1258,0.0423],[1262,0.0423],[1265,0.0416],[1269,0.0408],[1272,0.0388],[1276,0.0373],[1280,0.0363],[1282,0.0350],[1286,0.0347],[1289,0.0342],[1293,0.0332],[1296,0.0322],[1299,0.0307],[1302,0.0292],[1306,0.0295],[1309,0.0297],[1313,0.0295],[1316,0.0288],[1320,0.0274],[1324,0.0272],[1328,0.0259],[1330,0.0249],[1334,0.0244],[1337,0.0237],[1341,0.0234],[1345,0.0227],[1348,0.0227],[1352,0.0222],[1355,0.0206],[1359,0.0199],[1362,0.0201],[1366,0.0191],[1369,0.0181],[1372,0.0194],[1375,0.0201],[1379,0.0212],[1383,0.0214],[1386,0.0242],[1390,0.0244],[1393,0.0259],[1397,0.0262],[1400,0.0279],[1404,0.0300],[1408,0.0312],[1411,0.0332],[1415,0.0358],[1418,0.0363],[1421,0.0398],[1424,0.0393],[1428,0.0408],[1431,0.0393],[1435,0.0423],[1439,0.0426],[1442,0.0458],[1443,0.0478],[1446,0.0463],[1449,0.0466],[1453,0.0438],[1456,0.0458],[1460,0.0423],[1464,0.0438],[1466,0.0423],[1468,0.0368],[1472,0.0358],[1474,0.0363],[1477,0.0317],[1479,0.0297],[1483,0.0287],[1485,0.0269],[1489,0.0267],[1492,0.0252],[1496,0.0262],[1499,0.0267],[1502,0.0300],[1505,0.0292],[1509,0.0290],[1512,0.0247],[1516,0.0217],[1520,0.0204],[1523,0.0199],[1527,0.0214],[1530,0.0227],[1534,0.0252],[1537,0.0272],[1541,0.0277],[1545,0.0279],[1547,0.0267],[1550,0.0317],[1554,0.0327],[1558,0.0378],[1561,0.0368],[1565,0.0375],[1567,0.0388],[1571,0.0385],[1573,0.0393],[1576,0.0400],[1579,0.0383],[1583,0.0380],[1586,0.0375],[1590,0.0373],[1593,0.0375],[1597,0.0363],[1601,0.0365],[1604,0.0353],[1608,0.0347],[1611,0.0337],[1615,0.0332],[1620,0.0330],[1624,0.0330],[1628,0.0322],[1631,0.0312],[1635,0.0297],[1639,0.0287],[1642,0.0279],[1646,0.0297],[1648,0.0310],[1652,0.0300],[1655,0.0292],[1659,0.0282],[1663,0.0262],[1666,0.0247],[1670,0.0242],[1673,0.0227],[1677,0.0222],[1680,0.0200],[1683,0.0184],[1685,0.0181],[1688,0.0174],[1690,0.0186],[1694,0.0196],[1696,0.0209],[1699,0.0212],[1701,0.0229],[1705,0.0242],[1707,0.0247],[1710,0.0287],[1713,0.0292],[1717,0.0312],[1719,0.0342],[1722,0.0327],[1725,0.0347],[1728,0.0368],[1730,0.0378],[1733,0.0428],[1735,0.0443],[1738,0.0436],[1741,0.0453],[1745,0.0438],[1748,0.0451],[1751,0.0453],[1753,0.0473],[1755,0.0488],[1757,0.0458],[1760,0.0403],[1762,0.0408],[1766,0.0388],[1768,0.0358],[1770,0.0347],[1773,0.0337],[1776,0.0347],[1780,0.0327],[1784,0.0337],[1786,0.0312],[1789,0.0282],[1792,0.0312],[1796,0.0287],[1800,0.0290],[1803,0.0287],[1807,0.0274],[1810,0.0277],[1814,0.0297],[1818,0.0300],[1821,0.0287],[1824,0.0295],[1827,0.0272],[1831,0.0257],[1835,0.0232],[1838,0.0224],[1842,0.0227],[1845,0.0219],[1848,0.0247],[1852,0.0262],[1855,0.0252],[1859,0.0227],[1863,0.0252],[1866,0.0237],[1869,0.0217],[1872,0.0224],[1876,0.0252],[1880,0.0287],[1883,0.0332],[1887,0.0322],[1891,0.0342],[1894,0.0347],[1898,0.0373],[1902,0.0375],[1904,0.0413],[1908,0.0416],[1911,0.0408],[1914,0.0426],[1917,0.0428],[1920,0.0443],[1922,0.0458],[1925,0.0534],[1927,0.0549],[1930,0.0519],[1932,0.0499],[1934,0.0504],[1937,0.0468],[1939,0.0398],[1942,0.0393],[1944,0.0373],[1947,0.0373],[1951,0.0383],[1954,0.0358],[1957,0.0378],[1960,0.0358],[1964,0.0327],[1967,0.0287],[1971,0.0287],[1974,0.0287],[1977,0.0252],[1979,0.0247],[1982,0.0252],[1985,0.0227],[1988,0.0217],[1992,0.0206],[1995,0.0176],[1999,0.0196]];

// ---------- drawing ----------
const fig = document.getElementById("fig");
const FONT = "DejaVu Sans";

function makePanel({series, yDomain, yTicks, yFormat, width, height, ml, mr, mt, mb}) {
  return Plot.plot({
    width, height,
    marginLeft: ml, marginRight: mr, marginTop: mt, marginBottom: mb,
    style: {fontFamily: FONT, fontSize: "43px", background: "white", color: "black", overflow: "visible"},
    x: {domain: [950, 2050]},
    y: {domain: yDomain},
    marks: [
      ...series.map((s, i) => Plot.line(s, {x: d => d[0], y: d => d[1], stroke: colors[i], strokeWidth: 6.2})),
      Plot.frame({stroke: "black", strokeWidth: 3.4}),
      Plot.axisX({ticks: xTicks, tickFormat: d3.format("d"), tickSize: 15, tickPadding: 22, strokeWidth: 3.4, label: null, fontSize: 43}),
      Plot.axisY({ticks: yTicks, tickFormat: d3.format(yFormat), tickSize: 15, tickPadding: 19, strokeWidth: 3.4, label: null, fontSize: 43})
    ]
  });
}

function place(el, left, top) {
  const d = document.createElement("div");
  d.className = "panel";
  d.style.left = left + "px";
  d.style.top = top + "px";
  d.appendChild(el);
  fig.appendChild(d);
}

function title(text, cx, top) {
  const t = document.createElement("div");
  t.className = "title";
  t.textContent = text;
  t.style.left = cx + "px";
  t.style.top = top + "px";
  fig.appendChild(t);
}

function legend(labels, cx, top) {
  const L = document.createElement("div");
  L.className = "legend";
  L.style.left = cx + "px";
  L.style.top = top + "px";
  labels.forEach((lab, i) => {
    const it = document.createElement("div");
    it.className = "item";
    const h = document.createElement("div");
    h.className = "handle";
    h.style.background = colors[i];
    const s = document.createElement("span");
    s.textContent = lab;
    it.appendChild(h); it.appendChild(s);
    L.appendChild(it);
  });
  fig.appendChild(L);
}

place(makePanel({series: [accX, accY, accZ], yDomain: [-1.0, 1.265], yTicks: accTicks, yFormat: ".1f",
  width: 1440, height: 840, ml: 148, mr: 40, mt: 20, mb: 88}), 0, 80);
place(makePanel({series: [gyroX, gyroY, gyroZ], yDomain: [-204.7, 226.4], yTicks: gyroTicks, yFormat: "d",
  width: 1460, height: 840, ml: 191, mr: 18, mt: 20, mb: 88}), 1460, 80);
place(makePanel({series: [magGyro, magAcc, magFusion], yDomain: [-0.0026, 0.0734], yTicks: magTicks, yFormat: ".2f",
  width: 2920, height: 840, ml: 242, mr: 172, mt: 20, mb: 88}), 0, 1095);

title("Accelerometer Raw Data", 774, 31);
title("Gyroscope Raw Data", 2276, 31);
title("Magnitude", 1495, 1043);

legend(rawLabels, 761, 928);
legend(rawLabels, 2263, 928);
legend(magLabels, 1483, 1960);
</script></body></html>
